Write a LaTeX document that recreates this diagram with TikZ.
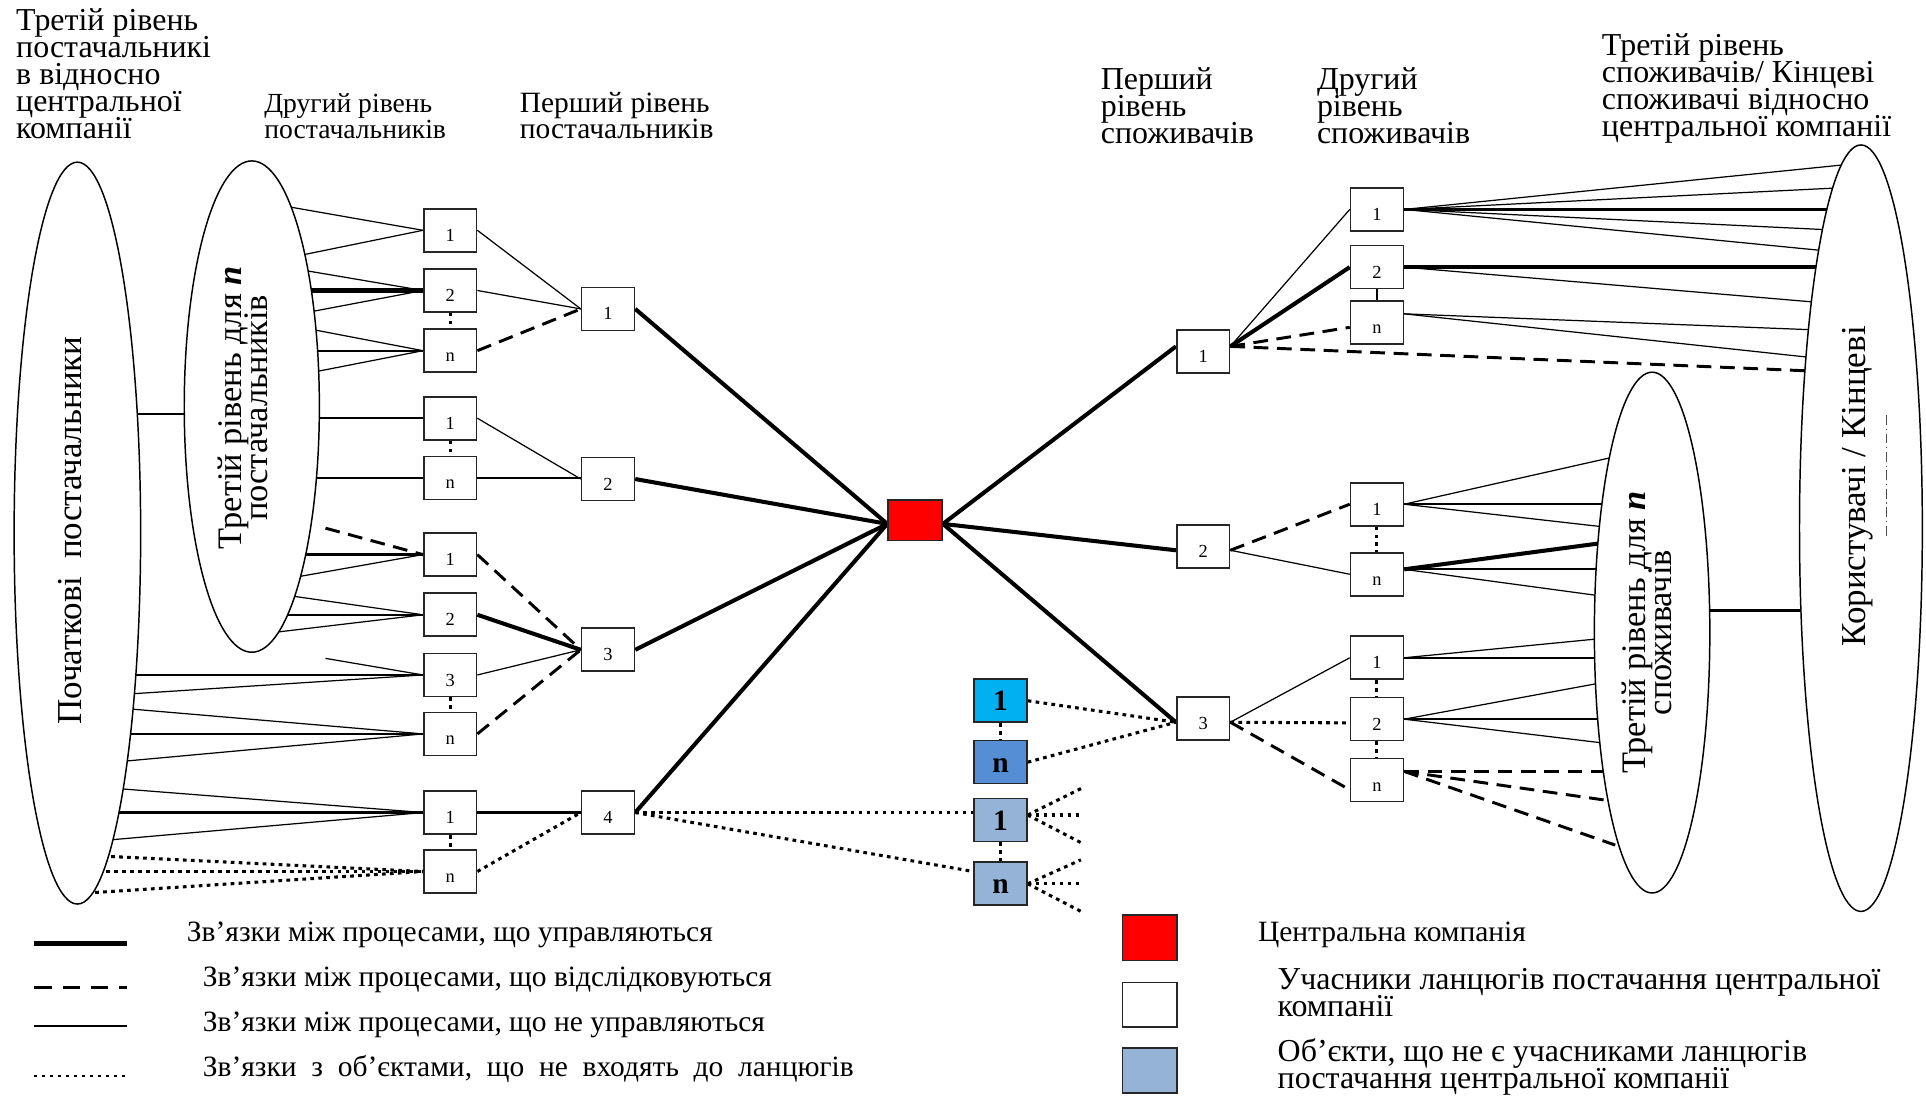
\documentclass[tikz,border=0pt]{standalone}
\usepackage{fontspec}
\setmainfont{Liberation Serif}
\usetikzlibrary{shapes.geometric}
\pgfdeclarelayer{bg}
\pgfsetlayers{bg,main}
\definecolor{cred}{HTML}{FF0000}
\definecolor{ccyan}{HTML}{00B0F0}
\definecolor{cblue}{HTML}{558ED5}
\definecolor{clight}{HTML}{95B3D7}
\newcommand{\fs}[2]{\fontsize{#1}{#2}\selectfont\lineskiplimit=-60pt\relax}
\begin{document}
\begin{tikzpicture}[x=1pt,y=-1pt,
  box/.style={draw=black!85, line width=1.3pt, fill=white, minimum width=43pt, minimum height=35pt, inner sep=0pt, font=\fs{15}{15}, text height=18pt, text depth=0pt},
  obox/.style={box, font=\fs{24}{24}\bfseries, text height=16.5pt},
  ell/.style={draw, ellipse, line width=1.2pt, fill=white, inner sep=0pt},
  lthin/.style={line width=1pt},
  lmed/.style={line width=1.8pt},
  lthk/.style={line width=3.3pt},
  ldash/.style={line width=2.4pt, dash pattern=on 12pt off 7pt},
  ldot/.style={line width=2.5pt, dash pattern=on 3pt off 3.5pt},
  hdr/.style={anchor=north west, align=left, inner sep=0pt, font=\fs{26}{22}},
  lgd/.style={anchor=west, inner sep=0pt, font=\fs{24}{22}},
  etxt/.style={rotate=90, align=center, inner sep=0pt}
]
\begin{pgfonlayer}{bg}
\fill[white] (0,0) rectangle (1568,893);
\end{pgfonlayer}
\useasboundingbox (0,0) rectangle (1568,893);

% ---------- headers
\node[hdr] (h1) at (13,7) {Третій рівень\\постачальникі\\в відносно\\центральної\\компанії};
\node[hdr, font=\fs{22.5}{21}] (h2) at (215,76) {Другий рівень\\постачальників};
\node[hdr, font=\fs{24}{21}] (h3) at (423,75) {Перший рівень\\постачальників};
\node[hdr] (h4) at (896,55) {Перший\\рівень\\споживачів};
\node[hdr] (h5) at (1072,55) {Другий\\рівень\\споживачів};
\node[hdr] (h6) at (1304,27) {Третій рівень\\споживачів/ Кінцеві\\споживачі відносно\\центральної компанії};

% ---------- ellipses
\node[ell, minimum width=103pt, minimum height=604pt] (el0) at (63,434) {};
\node[ell, minimum width=110pt, minimum height=400pt] (el1) at (205,331) {};
\node[ell, minimum width=94pt, minimum height=424pt] (el2) at (1345,515) {};
\node[ell, minimum width=100pt, minimum height=624pt] (el3) at (1515,430) {};
\node[etxt, font=\fs{28.5}{28}] (t0) at (57,432) {Початкові\ \ постачальники};
\node[etxt, font=\fs{28}{21}] (t1) at (198,332) {Третій рівень для \textbf{\textit{n}}\\постачальників};
\node[etxt, font=\fs{28}{21}] (t2) at (1341,515) {Третій рівень для \textbf{\textit{n}}\\споживачів};
\node[etxt, font=\fs{28.5}{28}] (t3) at (1512,396) {Користувачі / Кінцеві};

% ---------- second level suppliers
\node[box] (A1) at (366.5,187.5) {1};
\node[box] (A2) at (366.5,236.5) {2};
\node[box] (A3) at (366.5,285.5) {n};
\node[box] (B1) at (366.5,340.5) {1};
\node[box] (B2) at (366.5,389) {n};
\node[box] (C1) at (366.5,451.5) {1};
\node[box] (C2) at (366.5,500.5) {2};
\node[box] (C3) at (366.5,549.5) {3};
\node[box] (C4) at (366.5,597.5) {n};
\node[box] (D1) at (366.5,661.5) {1};
\node[box] (D2) at (366.5,709.5) {n};
% first level suppliers
\node[box] (S1) at (495,251.5) {1};
\node[box] (S2) at (495,390) {2};
\node[box] (S3) at (495,529) {3};
\node[box] (S4) at (495,661.5) {4};
% central company
\node[box, fill=cred, minimum width=44pt, minimum height=33pt] (cc) at (745,423.5) {};
% first level consumers
\node[box] (K1) at (979.5,286) {1};
\node[box] (K2) at (979.5,445) {2};
\node[box] (K3) at (979.5,585) {3};
% second level consumers
\node[box] (R1) at (1121,170.5) {1};
\node[box] (R2) at (1121,217.5) {2};
\node[box] (R3) at (1121,262.5) {n};
\node[box] (R4) at (1121,410.5) {1};
\node[box] (R5) at (1121,467.5) {n};
\node[box] (R6) at (1121,535.5) {1};
\node[box] (R7) at (1121,585.5) {2};
\node[box] (R8) at (1121,635) {n};
% outside objects
\node[obox, fill=ccyan] (b1) at (814.5,570.5) {1};
\node[obox, fill=cblue] (b2) at (814.5,620.5) {n};
\node[obox, fill=clight] (b3) at (814.5,667.5) {1};
\node[obox, fill=clight] (b4) at (814.5,719.5) {n};

% ---------- legend
\node[box, fill=cred, minimum width=44pt, minimum height=37pt] (lq1) at (936,763.5) {};
\node[box, minimum width=44pt, minimum height=36pt] (lq2) at (936,818) {};
\node[box, fill=clight, minimum width=44pt, minimum height=37pt] (lq3) at (936,871.5) {};
\node[lgd] (lt1) at (152,761) {Зв’язки між процесами, що управляються};
\node[lgd] (lt2) at (165,798) {Зв’язки між процесами, що відслідковуються};
\node[lgd] (lt3) at (165,834) {Зв’язки між процесами, що не управляються};
\node[lgd] (lt4) at (165,870) {\spaceskip=12pt\relax Зв’язки з об’єктами, що не входять до ланцюгів};
\node[lgd] (lt5) at (1024,761) {Центральна компанія};
\node[hdr, font=\fs{26}{22}] (lt6) at (1040,788) {Учасники ланцюгів постачання центральної\\компанії};
\node[hdr, font=\fs{26}{22}] (lt7) at (1040,845) {Об’єкти, що не є учасниками ланцюгів\\постачання центральної компанії};

% ---------- free ends
\foreach \n/\px/\py in {fa1/233/168, fa2/244/208, fb1/247/220, fb2/249/236.5, fb3/252/254,
  fc1/253/268, fc2/254/285.5, fc3/255/303, fd/256/340.5, fe/254/389,
  ff1/265/430, ff2/246/451.5, ff3/240/470, fg1/236/485, fg2/231/500.5, fg3/222/515,
  fh1/265/536, fh2/106/549.5, fh3/105/565, fi1/104/577, fi2/101/597.5, fi3/98/620,
  fj1/96/642, fj2/92/661.5, fj3/87/684, fk1/84/697, fk2/80/709.5, fk3/71/727,
  ra1/1314/372, ra2/1309/410.5, ra3/1306/429, rb1/1305/442, rb2/1303/463.5, rb3/1302/485,
  rc1/1302/520, rc2/1302/535.5, rd1/1303/556, rd2/1304/585.5, rd3/1306/605,
  re1/1309/628, re2/1311/652, re3/1315/688,
  sa1/1503/134, sa2/1496/153, sa3/1491/170.5, sa4/1487/187, sa5/1484/204,
  sb1/1482/217.5, sb2/1478/246, sc1/1476/268.5, sc2/1474/291, sd/1473/302,
  ua1/880/642, ua2/880/663.5, ua3/880/686, ub1/880/700, ub2/880/719.5, ub3/880/742,
  lg1a/28/768, lg1b/103/768, lg2a/28/804, lg2b/103/804, lg3a/28/835, lg3b/103/835,
  lg4a/28/876, lg4b/103/876, art1/1536/338, art2/1536/438}
  {\coordinate (\n) at (\px,\py);}

\begin{pgfonlayer}{bg}
% ellipse links
\draw[lmed] ([yshift=-6pt]el0.center |- el1.center) -- ([yshift=-6pt]el1.center);
\draw[lmed] ([yshift=18pt]el2.center) -- ([yshift=18pt]el2.center -| el3.center);
% into second level suppliers
\draw[lthin] (fa1) -- (A1.west); \draw[lthin] (fa2) -- (A1.west);
\draw[lthin] (fb1) -- (A2.west); \draw[lthk] (fb2) -- (A2.west); \draw[lthin] (fb3) -- (A2.west);
\draw[lthin] (fc1) -- (A3.west); \draw[lmed] (fc2) -- (A3.west); \draw[lthin] (fc3) -- (A3.west);
\draw[lmed] (fd) -- (B1.west);
\draw[lmed] (fe) -- (B2.west);
\draw[ldash] (ff1) -- (C1.west); \draw[lmed] (ff2) -- (C1.west); \draw[lthin] (ff3) -- (C1.west);
\draw[lthin] (fg1) -- (C2.west); \draw[lmed] (fg2) -- (C2.west); \draw[lthin] (fg3) -- (C2.west);
\draw[lthin] (fh1) -- (C3.west); \draw[lmed] (fh2) -- (C3.west); \draw[lthin] (fh3) -- (C3.west);
\draw[lthin] (fi1) -- (C4.west); \draw[lmed] (fi2) -- (C4.west); \draw[lthin] (fi3) -- (C4.west);
\draw[lthin] (fj1) -- (D1.west); \draw[lmed] (fj2) -- (D1.west); \draw[lthin] (fj3) -- (D1.west);
\draw[ldot] (fk1) -- (D2.west); \draw[ldot] (fk2) -- (D2.west); \draw[ldot] (fk3) -- (D2.west);
% vertical links
\draw[ldot] (A2.south) -- (A3.north);
\draw[ldot] (B1.south) -- (B2.north);
\draw[ldot] (C3.south) -- (C4.north);
\draw[ldot] (D1.south) -- (D2.north);
\draw[lmed] (R2.south) -- (R3.north);
\draw[ldot] (R4.south) -- (R5.north);
\draw[ldot] (R6.south) -- (R7.north);
\draw[ldot] (R7.south) -- (R8.north);
\draw[ldot] (b1.south) -- (b2.north);
\draw[ldot] (b3.south) -- (b4.north);
% second level -> first level
\draw[lthin] (A1.east) -- (S1.west);
\draw[lthin] (A2.east) -- (S1.west);
\draw[ldash] (A3.east) -- (S1.west);
\draw[lthin] (B1.east) -- (S2.west);
\draw[lmed] (B2.east) -- (B2.east -| S2.west);
\draw[ldash] (C1.east) -- (S3.west);
\draw[lthk] (C2.east) -- (S3.west);
\draw[lthin] (C3.east) -- (S3.west);
\draw[ldash] (C4.east) -- (S3.west);
\draw[lmed] (D1.east) -- (S4.west);
\draw[ldot] (D2.east) -- (S4.west);
% first level -> central
\draw[lthk] (S1.east) -- ([yshift=-3pt]cc.west);
\draw[lthk] (S2.east) -- ([yshift=-3pt]cc.west);
\draw[lthk] (S3.east) -- ([yshift=-3pt]cc.west);
\draw[lthk] (S4.east) -- ([yshift=-3pt]cc.west);
% central -> consumers
\draw[lthk] ([yshift=-3pt]cc.east) -- ([yshift=4pt]K1.west);
\draw[lthk] ([yshift=-3pt]cc.east) -- ([yshift=-3pt]K2.west);
\draw[lthk] ([yshift=-3pt]cc.east) -- ([yshift=-3pt]K3.west);
% first level consumers -> second level
\draw[lthin] ([yshift=4pt]K1.east) -- (R1.west);
\draw[lthk] ([yshift=4pt]K1.east) -- (R2.west);
\draw[ldash] ([yshift=4pt]K1.east) -- ([yshift=-4pt]R3.west);
\draw[ldash] ([yshift=4pt]K1.east) -- (sd);
\draw[ldash] ([yshift=-3pt]K2.east) -- (R4.west);
\draw[lthin] ([yshift=-3pt]K2.east) -- (R5.west);
\draw[lthin] ([yshift=-3pt]K3.east) -- (R6.west);
\draw[ldot] ([yshift=-3pt]K3.east) -- ([yshift=-3pt]R7.west);
\draw[ldash] ([yshift=-3pt]K3.east) -- ([yshift=-8pt]R8.west);
% outside objects
\draw[ldot] (b1.east) -- ([yshift=-3pt]K3.west);
\draw[ldot] (b2.east) -- ([yshift=-3pt]K3.west);
\draw[ldot] (S4.east) -- (S4.east -| b3.west);
\draw[ldot] (S4.east) -- ([yshift=10pt]b4.west);
\draw[ldot] ([yshift=4pt]b3.east) -- (ua1);
\draw[ldot] ([yshift=4pt]b3.east) -- (ua2);
\draw[ldot] ([yshift=4pt]b3.east) -- (ua3);
\draw[ldot] (b4.east) -- (ub1);
\draw[ldot] (b4.east) -- (ub2);
\draw[ldot] (b4.east) -- (ub3);
% second level consumers -> third level
\draw[lthin] (R1.east) -- (sa1); \draw[lthin] (R1.east) -- (sa2);
\draw[lmed] (R1.east) -- (sa3);
\draw[lthin] (R1.east) -- (sa4); \draw[lthin] (R1.east) -- (sa5);
\draw[lthk] (R2.east) -- (sb1); \draw[lthin] (R2.east) -- (sb2);
\draw[lthin] ([yshift=7pt]R3.east) -- (sc1); \draw[lthin] ([yshift=7pt]R3.east) -- (sc2);
\draw[lthin] (R4.east) -- (ra1); \draw[lmed] (R4.east) -- (ra2); \draw[lthin] (R4.east) -- (ra3);
\draw[lthk] ([yshift=4pt]R5.east) -- (rb1); \draw[lmed] ([yshift=4pt]R5.east) -- (rb2);
\draw[lthin] ([yshift=4pt]R5.east) -- (rb3);
\draw[lthin] (R6.east) -- (rc1); \draw[lmed] (R6.east) -- (rc2);
\draw[lthin] (R7.east) -- (rd1); \draw[lmed] (R7.east) -- (rd2); \draw[lthin] (R7.east) -- (rd3);
\draw[ldash] ([yshift=7pt]R8.east) -- (re1); \draw[ldash] ([yshift=7pt]R8.east) -- (re2);
\draw[ldash] ([yshift=7pt]R8.east) -- (re3);
\end{pgfonlayer}

% artefact line inside the end users ellipse
\draw[line width=0.5pt, black!70, dash pattern=on 8pt off 3pt on 1pt off 3pt] (art1) -- (art2);

% legend lines
\draw[line width=3.8pt] (lg1a) -- (lg1b);
\draw[line width=2.6pt, dash pattern=on 14pt off 9pt] (lg2a) -- (lg2b);
\draw[lmed] (lg3a) -- (lg3b);
\draw[line width=2.2pt, dash pattern=on 2.5pt off 4pt] (lg4a) -- (lg4b);
\end{tikzpicture}
\end{document}
